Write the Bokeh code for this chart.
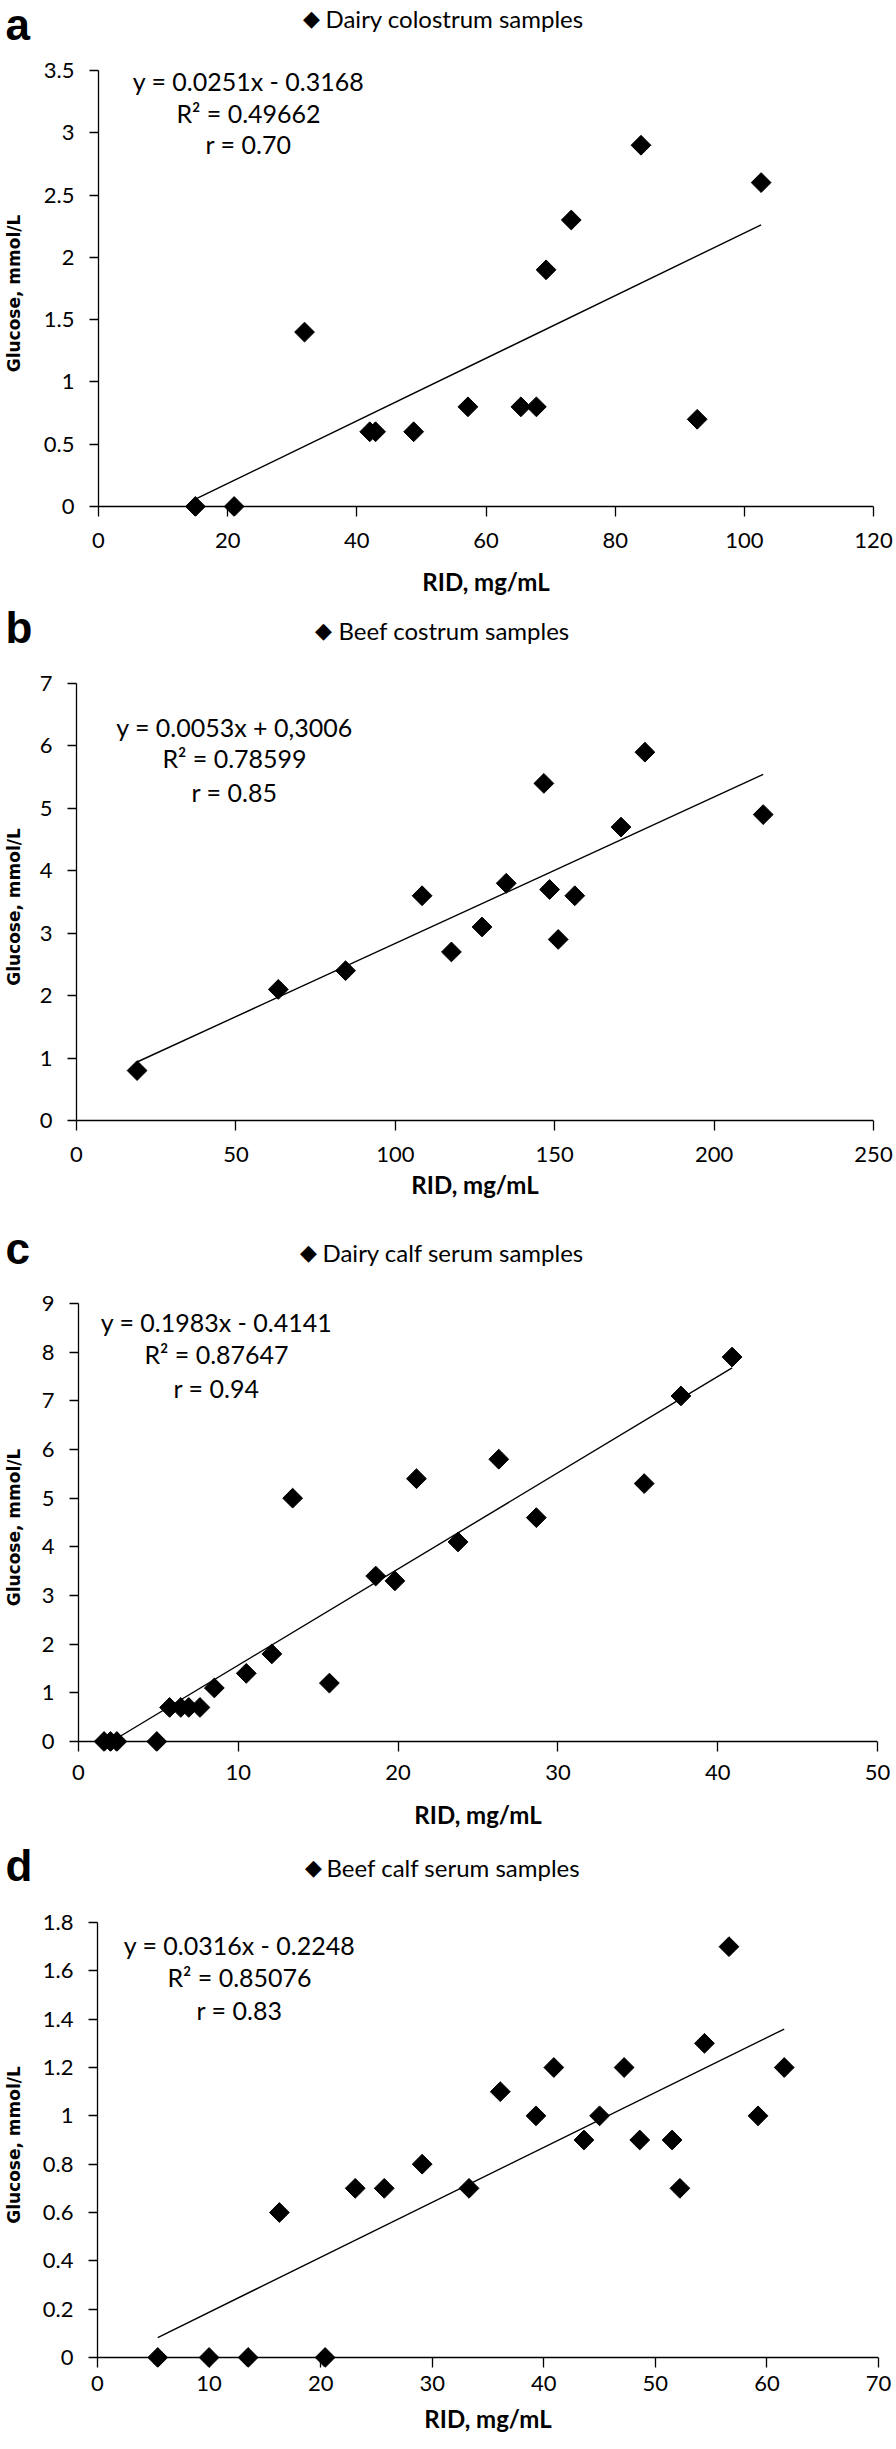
import numpy as np
from bokeh.plotting import figure
from bokeh.models import Label, Span, FixedTicker, CustomJSTickFormatter
from bokeh.embed import file_html
from bokeh.resources import INLINE

# ---------------- data ----------------
letters = ["a", "b", "c", "d"]
series_names = ["Dairy colostrum samples", "Beef costrum samples",
                "Dairy calf serum samples", "Beef calf serum samples"]

a_x = [15.0, 21.0, 31.9, 42.0, 42.9, 48.8, 57.2, 65.4, 67.8, 69.3, 73.2, 84.0, 92.7, 102.6]
a_y = [0, 0, 1.4, 0.6, 0.6, 0.6, 0.8, 0.8, 0.8, 1.9, 2.3, 2.9, 0.7, 2.6]

b_x = [19.0, 63.3, 84.4, 108.4, 117.6, 127.2, 134.8, 146.6, 148.4, 151.1, 156.3, 170.8, 178.3, 215.4]
b_y = [0.8, 2.1, 2.4, 3.6, 2.7, 3.1, 3.8, 5.4, 3.7, 2.9, 3.6, 4.7, 5.9, 4.9]

c_x = [1.6, 2.0, 2.4, 4.9, 5.7, 6.4, 6.9, 7.6, 8.5, 10.5, 12.1, 13.4, 15.7, 18.6, 19.8,
       21.15, 23.75, 26.3, 28.65, 35.4, 37.7, 40.9]
c_y = [0, 0, 0, 0, 0.7, 0.7, 0.7, 0.7, 1.1, 1.4, 1.8, 5.0, 1.2, 3.4, 3.3,
       5.4, 4.1, 5.8, 4.6, 5.3, 7.1, 7.9]

d_x = [5.4, 10.0, 13.5, 20.4, 16.3, 23.1, 25.7, 29.1, 33.3, 36.1, 39.3, 40.9, 43.6, 45.0,
       47.2, 48.6, 51.5, 52.2, 54.4, 56.6, 59.2, 61.55]
d_y = [0, 0, 0, 0, 0.6, 0.7, 0.7, 0.8, 0.7, 1.1, 1.0, 1.2, 0.9, 1.0,
       1.2, 0.9, 0.9, 0.7, 1.3, 1.7, 1.0, 1.2]

equations = [
    ["y = 0.0251x - 0.3168", "R\u00b2 = 0.49662", "r = 0.70"],
    ["y = 0.0053x + 0,3006", "R\u00b2 = 0.78599", "r = 0.85"],
    ["y = 0.1983x - 0.4141", "R\u00b2 = 0.87647", "r = 0.94"],
    ["y = 0.0316x - 0.2248", "R\u00b2 = 0.85076", "r = 0.83"],
]

x_ticks = [[0, 20, 40, 60, 80, 100, 120],
           [0, 50, 100, 150, 200, 250],
           [0, 10, 20, 30, 40, 50],
           [0, 10, 20, 30, 40, 50, 60, 70]]
y_ticks = [[0, 0.5, 1, 1.5, 2, 2.5, 3, 3.5],
           [0, 1, 2, 3, 4, 5, 6, 7],
           [0, 1, 2, 3, 4, 5, 6, 7, 8, 9],
           [0, 0.2, 0.4, 0.6, 0.8, 1, 1.2, 1.4, 1.6, 1.8]]

xs_all = [a_x, b_x, c_x, d_x]
ys_all = [a_y, b_y, c_y, d_y]

x_title = "RID, mg/mL"
y_title = "Glucose, mmol/L"

# ---------------- layout (page pixels) ----------------
W = 896
head_top = [0, 600, 1215, 1834]
head_h = [50, 65, 70, 66]
plot_h = [550, 550, 549, 548]
frame_left = [97, 75, 77, 96]
frame_right = [873, 873, 877, 878]
frame_top = [70, 683, 1303, 1922]
zero_line = [506, 1120, 1741, 2357]
tick_standoff = [16, 16, 13, 8]
title_standoff = [16, 5, 17, 10]
ytitle_standoff = [17, 13, 15, 16]
letter_x = 5
letter_mid = [24, 627, 1248, 1865]
legend_mid = [18, 630, 1252, 1867]
legend_diamond_x = [311, 323, 308, 313]
legend_text_x = [325, 338, 322, 326]
eq_cx = [247, 233, 215, 238]
eq_y = [[80, 112, 143], [726, 757, 791], [1321, 1353, 1387], [1944, 1976, 2009]]
BELOW = 10  # frame extends this many px below the zero line

TICK_FONT = "Lato"
fmt = CustomJSTickFormatter(code="return String(Math.round(tick*1000)/1000);")

roots = []
for i in range(4):
    xs = xs_all[i]
    ys = ys_all[i]
    ymax = y_ticks[i][-1]
    xmax = x_ticks[i][-1]

    # ---------- header strip: panel letter + legend ----------
    hh = head_h[i]
    h = figure(width=W, height=hh, x_range=(0, W), y_range=(0, hh), title=None,
               toolbar_location=None, output_backend="svg",
               x_axis_type=None, y_axis_type=None,
               min_border_left=0, min_border_right=0, min_border_top=0, min_border_bottom=0)
    h.outline_line_color = None
    h.grid.visible = False

    def hlab(text, px, py, align="center", font="Lato", size="24px", style="normal"):
        h.add_layout(Label(x=px, y=hh - (py - head_top[i]), x_units="screen", y_units="screen",
                           text=text, text_align=align, text_baseline="middle",
                           text_font=font, text_font_size=size, text_font_style=style,
                           text_color="black"))

    hlab(letters[i], letter_x, letter_mid[i], align="left",
         font="Liberation Sans", size="44px", style="bold")
    hlab("\u25c6", legend_diamond_x[i], legend_mid[i], font="DejaVu Sans", size="22px")
    hlab(series_names[i], legend_text_x[i], legend_mid[i], align="left", size="24px")
    roots.append(h)

    # ---------- scatter plot ----------
    top = head_top[i] + hh
    fb = zero_line[i] + BELOW
    delta = BELOW * ymax / (zero_line[i] - frame_top[i])
    p = figure(width=W, height=plot_h[i],
               x_range=(0, xmax), y_range=(-delta, ymax), title=None,
               toolbar_location=None, output_backend="svg",
               min_border_left=frame_left[i],
               min_border_right=W - frame_right[i],
               min_border_top=frame_top[i] - top,
               min_border_bottom=top + plot_h[i] - fb)
    p.outline_line_color = None
    p.grid.visible = False

    xa = p.xaxis[0]
    xa.ticker = FixedTicker(ticks=x_ticks[i])
    xa.formatter = fmt
    xa.axis_line_color = None
    xa.major_tick_in = BELOW
    xa.major_tick_out = 0
    xa.minor_tick_line_color = None
    xa.major_tick_line_color = "black"
    xa.major_tick_line_width = 1.3
    xa.major_label_standoff = tick_standoff[i]
    xa.major_label_text_font = TICK_FONT
    xa.major_label_text_font_size = "22px"
    xa.major_label_text_color = "black"
    xa.axis_label = x_title
    xa.axis_label_text_font = "Lato"
    xa.axis_label_text_font_style = "bold"
    xa.axis_label_text_font_size = "24px"
    xa.axis_label_text_color = "black"
    xa.axis_label_standoff = title_standoff[i]

    ya = p.yaxis[0]
    ya.ticker = FixedTicker(ticks=y_ticks[i])
    ya.formatter = fmt
    ya.bounds = (0, ymax)
    ya.axis_line_color = "black"
    ya.axis_line_width = 1.3
    ya.major_tick_in = 0
    ya.major_tick_out = 9
    ya.minor_tick_line_color = None
    ya.major_tick_line_color = "black"
    ya.major_tick_line_width = 1.3
    ya.major_label_standoff = 15
    ya.major_label_text_font = TICK_FONT
    ya.major_label_text_font_size = "22px"
    ya.major_label_text_color = "black"
    ya.axis_label = y_title
    ya.axis_label_text_font = "DejaVu Sans"
    ya.axis_label_text_font_style = "bold"
    ya.axis_label_text_font_size = "17px"
    ya.axis_label_text_color = "black"
    ya.axis_label_standoff = ytitle_standoff[i]

    # zero line acting as the x axis line
    p.add_layout(Span(location=0, dimension="width", line_color="black", line_width=1.3))

    # linear trend line (least squares fit of the points)
    coef = np.polyfit(xs, ys, 1)
    tx = [min(xs), max(xs)]
    p.line(tx, list(np.polyval(coef, tx)), line_color="black", line_width=1.4)

    # points
    p.scatter(xs, ys, marker="square", angle=np.pi / 4, size=14,
              fill_color="black", line_color="black")

    # regression text block
    for k in range(3):
        p.add_layout(Label(x=eq_cx[i] - frame_left[i], y=fb - eq_y[i][k],
                           x_units="screen", y_units="screen",
                           text=equations[i][k], text_align="center", text_baseline="middle",
                           text_font="Lato", text_font_size="25px", text_color="black"))
    roots.append(p)

# separate roots so Bokeh does not align the plot frames with each other
open("out.html", "w").write(file_html(roots, INLINE))
